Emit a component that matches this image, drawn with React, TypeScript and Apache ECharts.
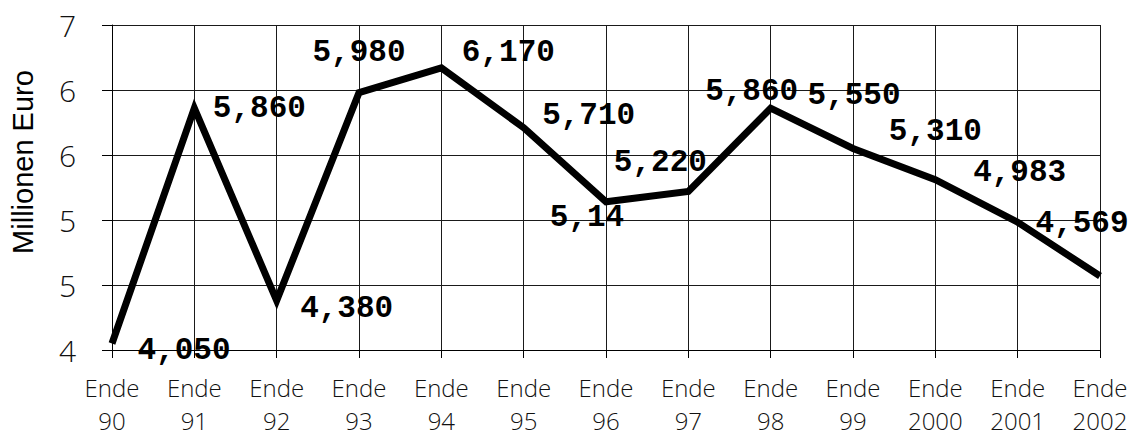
import React, { useEffect, useRef } from "react";
import * as echarts from "echarts";

const years = ["90", "91", "92", "93", "94", "95", "96", "97", "98", "99", "2000", "2001", "2002"];
const values = [4.05, 5.86, 4.38, 5.98, 6.17, 5.71, 5.14, 5.22, 5.86, 5.55, 5.31, 4.983, 4.569];
const valueLabels = ["4,050", "5,860", "4,380", "5,980", "6,170", "5,710", "5,14", "5,220", "5,860", "5,550", "5,310", "4,983", "4,569"];
const labelOffsets = [
  [72, 7], [65, 0], [70, 8], [0, -40], [67, -15], [65, -12], [-19, 16],
  [-28, -29], [-19, -17], [1, -53], [0, -48], [2, -50], [-18, -53],
];
const yMin = 4;
const yMax = 6.5;
const yStep = 0.5;

export default function App() {
  const ref = useRef<HTMLDivElement>(null);
  useEffect(() => {
    if (!ref.current) return;
    const chart = echarts.init(ref.current, null, { renderer: "svg" });
    const tickFont = "'Open Sans', 'DejaVu Sans', sans-serif";
    chart.setOption({
      animation: false,
      backgroundColor: "#fff",
      grid: {
        left: 112,
        right: 35,
        top: 25,
        bottom: 87,
        containLabel: false,
        outerBoundsMode: "none",
      },
      xAxis: {
        type: "category",
        data: years.map((y) => "Ende\n" + y),
        boundaryGap: false,
        axisLine: { show: true, lineStyle: { color: "#000", width: 1 } },
        axisTick: { show: true, inside: false, length: 8, lineStyle: { color: "#000" } },
        axisLabel: {
          interval: 0,
          margin: 21,
          fontFamily: tickFont,
          fontWeight: 300,
          fontSize: 24,
          lineHeight: 33,
          color: "#111",
        },
        splitLine: { show: true, lineStyle: { color: "#1a1a1a", width: 1 } },
      },
      yAxis: {
        type: "value",
        min: yMin,
        max: yMax,
        interval: yStep,
        axisLine: { show: true, lineStyle: { color: "#000", width: 1 } },
        axisTick: { show: true, inside: false, length: 10, lineStyle: { color: "#000" } },
        axisLabel: {
          margin: 36,
          fontFamily: tickFont,
          fontWeight: 300,
          fontSize: 30,
          color: "#111",
          formatter: (v: number) => String(Math.round(v)),
        },
        splitLine: { show: true, lineStyle: { color: "#1a1a1a", width: 1 } },
      },
      graphic: [
        {
          type: "text",
          x: 23,
          y: 162,
          rotation: Math.PI / 2,
          style: {
            text: "Millionen Euro",
            fontFamily: "'Liberation Sans', Arial, sans-serif",
            fontSize: 29,
            fill: "#000",
            textAlign: "center",
            textVerticalAlign: "middle",
          },
        },
      ],
      series: [
        {
          type: "line",
          data: values.map((v, i) => ({
            value: v,
            label: { offset: labelOffsets[i] },
          })),
          showSymbol: true,
          symbol: "circle",
          symbolSize: 1,
          itemStyle: { color: "rgba(0,0,0,0)" },
          lineStyle: { color: "#000", width: 7, join: "miter" },
          label: {
            show: true,
            position: "inside",
            align: "center",
            verticalAlign: "middle",
            fontFamily: "'Liberation Mono', 'Courier New', monospace",
            fontWeight: "bold",
            fontSize: 31,
            color: "#000",
            formatter: (p: any) => valueLabels[p.dataIndex],
          },
          emphasis: { disabled: true },
        },
      ],
    });
    return () => chart.dispose();
  }, []);
  return (
    <div
      ref={ref}
      style={{ position: "fixed", left: 0, top: 0, width: 1135, height: 437 }}
    />
  );
}
